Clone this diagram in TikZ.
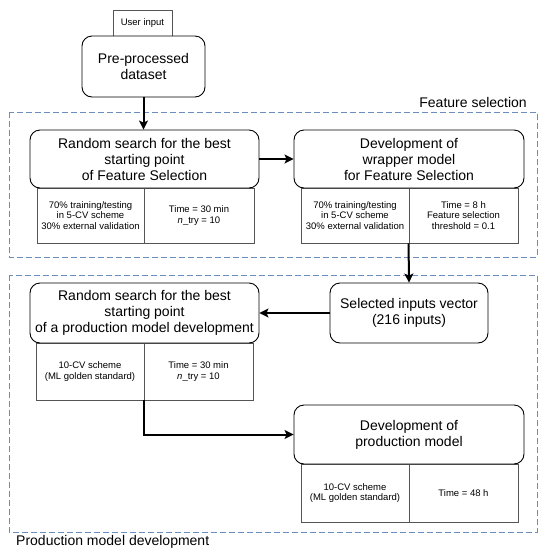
\documentclass[tikz,border=0pt]{standalone}
\usepackage{fontspec}
\setmainfont{Liberation Sans}
\usetikzlibrary{arrows.meta}
\definecolor{dashcol}{HTML}{6C8EBF}
\definecolor{cellcol}{HTML}{555555}
\tikzset{
  mainbox/.style={draw=black, rounded corners=10pt, line width=0.9pt, fill=white, align=center,
    font=\fontsize{14}{16}\selectfont, inner sep=0pt},
  cellbox/.style={draw=cellcol, line width=0.9pt, align=center, inner sep=0pt,
    font=\fontsize{9.5}{10.5}\selectfont},
  groupbox/.style={draw=dashcol, line width=0.8pt, dash pattern=on 6pt off 3pt},
  arr/.style={line width=2pt, -{Stealth[length=9pt,width=9pt,inset=2pt]}},
  grouplabel/.style={font=\fontsize{14}{16}\selectfont, inner sep=0pt}
}
\begin{document}
\begin{tikzpicture}[x=1pt,y=-1pt]
\useasboundingbox (0,0) rectangle (543,550);
% groups
\draw[groupbox] (9,112) rectangle (537,257);
\draw[groupbox] (9,275) rectangle (537,532);
\node[grouplabel, anchor=east] (fslab) at (527,102) {Feature selection};
\node[grouplabel, anchor=west] (pmlab) at (16,542) {Production model development};
% top
\node[cellbox, minimum width=59pt, minimum height=26pt] (user) at (142.5,23) {User input};
\node[mainbox, minimum width=123pt, minimum height=61pt] (pre) at (143.5,66.5) {Pre-processed\\dataset};
% feature selection
\node[cellbox, minimum width=107pt, minimum height=55pt] (t1a) at (90.5,215.5) {70\% training/testing\\in 5-CV scheme\\30\% external validation};
\node[cellbox, minimum width=110pt, minimum height=55pt] (t1b) at (199,215.5) {Time = 30 min\\\textit{n}\_try = 10};
\node[mainbox, minimum width=229pt, minimum height=58pt] (rs1) at (144.5,159) {Random search for the best\\starting point\\of Feature Selection};
\node[cellbox, minimum width=108pt, minimum height=55pt] (t2a) at (355,215.5) {70\% training/testing\\in 5-CV scheme\\30\% external validation};
\node[cellbox, minimum width=109pt, minimum height=55pt] (t2b) at (463.5,215.5) {Time = 8 h\\Feature selection\\threshold = 0.1};
\node[mainbox, minimum width=230pt, minimum height=58pt] (dev1) at (409,159) {Development of\\wrapper model\\for Feature Selection};
% production
\node[cellbox, minimum width=108pt, minimum height=57pt] (t3a) at (90,371.5) {10-CV scheme\\(ML golden standard)};
\node[cellbox, minimum width=109pt, minimum height=57pt] (t3b) at (198.5,371.5) {Time = 30 min\\\textit{n}\_try = 10};
\node[mainbox, minimum width=229pt, minimum height=60pt] (rs2) at (144.5,313) {Random search for the best\\starting point\\of a production model development};
\node[mainbox, minimum width=158pt, minimum height=60pt] (sel) at (409,313) {Selected inputs vector\\(216 inputs)};
\node[cellbox, minimum width=108pt, minimum height=58pt] (t4a) at (355,493) {10-CV scheme\\(ML golden standard)};
\node[cellbox, minimum width=109pt, minimum height=58pt] (t4b) at (463.5,493) {Time = 48 h};
\node[mainbox, minimum width=230pt, minimum height=59pt] (dev2) at (409,434.5) {Development of\\production model};
% arrows
\draw[arr] (pre.south) -- (pre.south |- rs1.north);
\draw[arr] (rs1.east) -- (dev1.west);
\draw[arr] (t2b.south west) -- (sel.north);
\draw[arr] (sel.west) -- (rs2.east);
\draw[arr] (t3b.south west) |- (dev2.west);
\end{tikzpicture}
\end{document}
